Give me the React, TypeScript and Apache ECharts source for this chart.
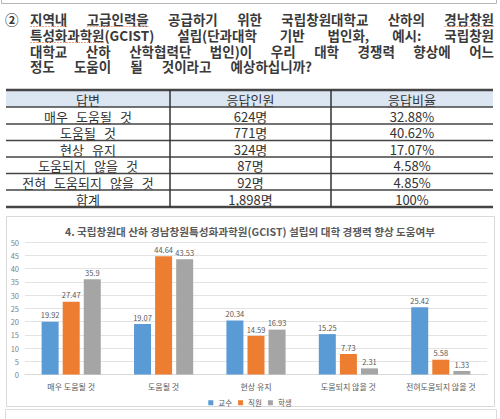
import React, { useEffect, useRef } from "react";
import * as echarts from "echarts";

const questionMark = "②";
const questionLines = [
  "지역내 고급인력을 공급하기 위한 국립창원대학교 산하의 경남창원",
  "특성화과학원(GCIST) 설립(단과대학 기반 법인화, 예시: 국립창원",
  "대학교 산하 산학협력단 법인)이 우리 대학 경쟁력 향상에 어느",
  "정도 도움이 될 것이라고 예상하십니까?",
];
const spellWords = ["지역내", "고급인력을", "경남창원", "특성화과학원", "도움될", "도움되지", "응답인원", "응답비율"];

const tableHeader = ["답변", "응답인원", "응답비율"];
const answers = ["매우 도움될 것", "도움될 것", "현상 유지", "도움되지 않을 것", "전혀 도움되지 않을 것", "합계"];
const counts = ["624명", "771명", "324명", "87명", "92명", "1,898명"];
const ratios = ["32.88%", "40.62%", "17.07%", "4.58%", "4.85%", "100%"];

const chartTitle = "4. 국립창원대 산하 경남창원특성화과학원(GCIST) 설립의 대학 경쟁력 향상 도움여부";
const categories = ["매우 도움될 것", "도움될 것", "현상 유지", "도움되지 않을 것", "전혀도움되지 않을 것"];
const seriesNames = ["교수", "직원", "학생"];
const professor = [19.92, 19.07, 20.34, 15.25, 25.42];
const staff = [27.47, 44.64, 14.59, 7.73, 5.58];
const student = [35.9, 43.53, 16.93, 2.31, 1.33];
const seriesColors = ["#5b9bd5", "#ed7d31", "#a5a5a5"];
const yMin = 0;
const yMax = 50;
const yStep = 5;

const FAMILY = "'Noto Sans CJK KR', 'Noto Sans', sans-serif";
const Q_FONT = `bold 13.5px ${FAMILY}`;
const T_FONT = `400 13px ${FAMILY}`;

export default function App() {
  const ref = useRef<HTMLDivElement>(null);
  useEffect(() => {
    const ctx = document.createElement("canvas").getContext("2d")!;
    const tw = (s: string, font: string) => {
      ctx.font = font;
      return ctx.measureText(s).width;
    };
    const els: any[] = [];

    const placeWords = (words: string[], x0: number, y: number, gap: number, font: string, fill: string) => {
      let x = x0;
      for (const w of words) {
        els.push({
          type: "text",
          x,
          y,
          silent: true,
          style: { text: w, font, fill, textAlign: "left", textVerticalAlign: "middle" },
        });
        for (const s of spellWords) {
          const idx = w.indexOf(s);
          if (idx >= 0) {
            const ox = x + tw(w.slice(0, idx), font);
            const len = tw(s, font);
            els.push({
              type: "line",
              silent: true,
              shape: { x1: ox, y1: y + 8, x2: ox + len, y2: y + 8 },
              style: { stroke: "#e9a786", lineWidth: 1, lineDash: [2, 1] },
            });
            break;
          }
        }
        x += tw(w, font) + gap;
      }
    };

    // top frame edge
    els.push({
      type: "polyline",
      silent: true,
      shape: { points: [[1.5, -2], [1.5, 3.5], [496.5, 3.5], [496.5, -2]] },
      style: { stroke: "#b5b5b5", lineWidth: 1, fill: "none" },
    });

    // question
    const qLeft = 30;
    const qCenters = [18.5, 34.5, 50.5, 66];
    const qWidths = [464, 464, 464, 282];
    els.push({
      type: "text",
      x: 5,
      y: qCenters[0],
      silent: true,
      style: { text: questionMark, font: Q_FONT, fill: "#3a3a3a", textAlign: "left", textVerticalAlign: "middle" },
    });
    questionLines.forEach((line, i) => {
      const words = line.split(" ");
      const sum = words.reduce((a, w) => a + tw(w, Q_FONT), 0);
      const gap = (qWidths[i] - sum) / (words.length - 1);
      placeWords(words, qLeft, qCenters[i], gap, Q_FONT, "#3a3a3a");
    });

    // table
    const colLefts = [6, 170, 331, 493];
    const rowLines = [90, 107, 124, 140.5, 157, 173.5, 190, 207];
    els.push({
      type: "rect",
      silent: true,
      shape: { x: colLefts[0], y: rowLines[0], width: colLefts[3] - colLefts[0], height: rowLines[1] - rowLines[0] },
      style: { fill: "#dce6f2" },
    });
    const rows = [tableHeader, ...answers.map((a, i) => [a, counts[i], ratios[i]])];
    rows.forEach((r, ri) => {
      const cy = (rowLines[ri] + rowLines[ri + 1]) / 2 + 0.5;
      r.forEach((c, ci) => {
        const cx = (colLefts[ci] + colLefts[ci + 1]) / 2;
        const words = c.split(" ");
        const gap = 8;
        const total = words.reduce((a, w) => a + tw(w, T_FONT), 0) + gap * (words.length - 1);
        placeWords(words, cx - total / 2, cy, gap, T_FONT, "#333333");
      });
    });
    rowLines.forEach((y, i) => {
      const edge = i === 0 || i === rowLines.length - 1;
      els.push({
        type: "line",
        silent: true,
        shape: { x1: colLefts[0], y1: y, x2: colLefts[3], y2: y },
        style: { stroke: "#454545", lineWidth: edge ? 2.5 : 1.5 },
      });
    });
    [colLefts[1], colLefts[2]].forEach((x) => {
      els.push({
        type: "line",
        silent: true,
        shape: { x1: x, y1: rowLines[0], x2: x, y2: rowLines[rowLines.length - 1] },
        style: { stroke: "#333333", lineWidth: 1.5 },
      });
    });

    // chart frame
    els.push({
      type: "rect",
      silent: true,
      shape: { x: 6.5, y: 216.5, width: 488, height: 190 },
      style: { fill: "none", stroke: "#d9d9d9", lineWidth: 1 },
    });
    els.push({
      type: "polyline",
      silent: true,
      shape: { points: [[5.5, 421], [5.5, 409.5], [496.5, 409.5], [496.5, 421]] },
      style: { fill: "none", stroke: "#dcdcdc", lineWidth: 1 },
    });

    const chart = echarts.init(ref.current!, null, { renderer: "svg" });
    const values = [professor, staff, student];
    chart.setOption({
      animation: false,
      textStyle: { fontFamily: FAMILY },
      color: seriesColors,
      graphic: { elements: els },
      title: {
        text: chartTitle,
        left: "center",
        top: 221,
        textStyle: { fontSize: 10.6, fontWeight: "bold", color: "#595959", fontFamily: FAMILY },
      },
      legend: {
        data: seriesNames,
        top: 394,
        left: "center",
        icon: "rect",
        itemWidth: 5,
        itemHeight: 5,
        itemGap: 6,
        textStyle: { fontSize: 7.5, color: "#595959", fontFamily: FAMILY },
      },
      grid: { left: 25, right: 13, top: 242, bottom: 44.5 },
      xAxis: {
        type: "category",
        data: categories,
        axisLine: { lineStyle: { color: "#d9d9d9" } },
        axisTick: { show: false },
        axisLabel: { fontSize: 8, color: "#595959", margin: 8, fontFamily: FAMILY },
      },
      yAxis: {
        type: "value",
        min: yMin,
        max: yMax,
        interval: yStep,
        axisLine: { show: false },
        axisTick: { show: false },
        axisLabel: { fontSize: 7.5, color: "#7f7f7f", margin: 6, fontFamily: FAMILY },
        splitLine: { lineStyle: { color: "#e3e3e3" } },
      },
      series: seriesNames.map((name, i) => ({
        name,
        type: "bar",
        data: values[i],
        barWidth: 17,
        barGap: "24%",
        label: {
          show: true,
          position: "top",
          distance: 3,
          fontSize: 7.5,
          color: "#595959",
          fontFamily: FAMILY,
        },
      })),
    });
    return () => chart.dispose();
  }, []);
  return (
    <div
      ref={ref}
      style={{ position: "absolute", left: 0, top: 0, width: 500, height: 419, background: "#ffffff" }}
    />
  );
}
